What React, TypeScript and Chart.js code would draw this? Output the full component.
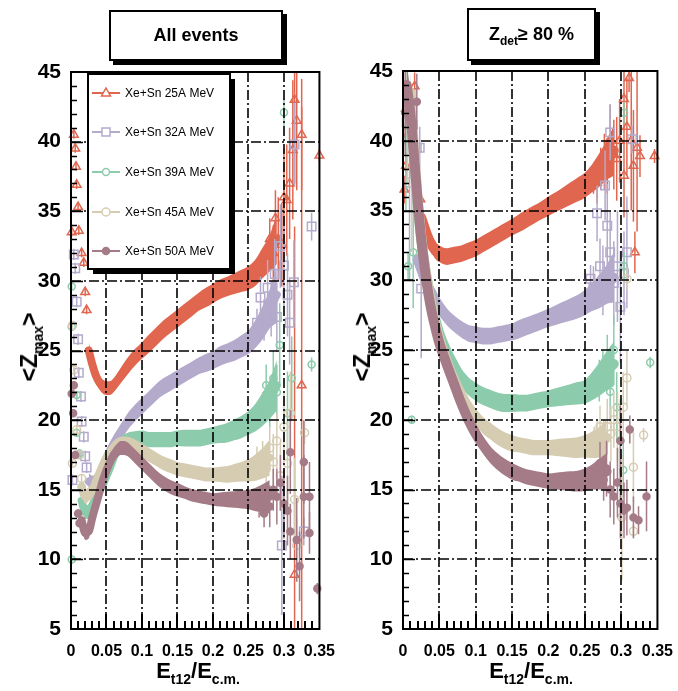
import React, { useEffect, useRef } from "react";
import { Chart, registerables } from "chart.js";

Chart.register(...registerables);

const FONT = '"Liberation Sans", Arial, Helvetica, sans-serif';
Chart.defaults.font.family = FONT;

// ---------- axes ----------
const X_TICKS = ["0", "0.05", "0.1", "0.15", "0.2", "0.25", "0.3", "0.35"];
const X_MAJOR = [0.05, 0.1, 0.15, 0.2, 0.25, 0.3];
const Y_MAJOR = [10, 15, 20, 25, 30, 35, 40];

// ---------- series meta ----------
const LABELS = ["Xe+Sn 25A MeV", "Xe+Sn 32A MeV", "Xe+Sn 39A MeV", "Xe+Sn 45A MeV", "Xe+Sn 50A MeV"];
const COLORS = ["#E0664F", "#B4AACB", "#8CCBAB", "#D6CCB2", "#A47B87"];
const STYLES = ["triangle", "rect", "circle", "circle", "circle"];
const FILLED = [false, false, false, false, true];
const RADII = [5, 6, 3.5, 4, 3.5];

// ================= LEFT PANEL (All events) =================
// dense bands
const L_R25_X = [0.025,0.03,0.035,0.04,0.045,0.05,0.055,0.06,0.07,0.08,0.09,0.1,0.11,0.12,0.13,0.14,0.15,0.16,0.17,0.18,0.19,0.2,0.21,0.22,0.23,0.24,0.25,0.26,0.27,0.28,0.29];
const L_R25_Y = [25.0,24.0,23.2,22.7,22.4,22.3,22.3,22.5,23.2,23.9,24.5,25.0,25.5,26.0,26.5,26.9,27.3,27.7,28.1,28.5,28.8,29.1,29.4,29.6,29.8,30.0,30.2,30.6,31.3,32.0,33.0];
const L_R25_E = [0.6,0.55,0.5,0.5,0.5,0.5,0.5,0.5,0.55,0.6,0.6,0.6,0.65,0.65,0.65,0.65,0.65,0.65,0.65,0.65,0.7,0.7,0.7,0.7,0.75,0.8,0.85,0.95,1.1,1.3,1.8];

const L_P32_X = [0.025,0.03,0.035,0.04,0.045,0.05,0.055,0.06,0.065,0.07,0.08,0.09,0.1,0.11,0.12,0.13,0.14,0.15,0.16,0.17,0.18,0.19,0.2,0.21,0.22,0.23,0.24,0.25,0.26,0.27,0.28,0.29];
const L_P32_Y = [15.6,15.4,15.6,16.1,16.7,17.3,17.8,18.3,18.7,19.1,19.9,20.5,21.0,21.5,22.0,22.4,22.7,23.0,23.3,23.6,23.9,24.1,24.3,24.6,24.8,25.0,25.3,25.6,26.2,27.0,28.0,29.0];
const L_P32_E = [0.6,0.6,0.6,0.6,0.6,0.6,0.6,0.6,0.6,0.6,0.6,0.6,0.6,0.6,0.6,0.6,0.6,0.6,0.6,0.6,0.6,0.65,0.65,0.7,0.7,0.75,0.8,0.85,1.0,1.2,1.4,2.0];

const L_G39_X = [0.015,0.02,0.025,0.03,0.035,0.04,0.045,0.05,0.055,0.06,0.065,0.07,0.08,0.09,0.1,0.11,0.12,0.13,0.14,0.15,0.16,0.17,0.18,0.19,0.2,0.21,0.22,0.23,0.24,0.25,0.26,0.27,0.28,0.29];
const L_G39_Y = [14.2,13.4,13.4,13.9,14.4,14.9,15.4,16.0,16.6,17.3,17.9,18.3,18.6,18.7,18.7,18.6,18.6,18.6,18.6,18.7,18.7,18.7,18.7,18.8,18.9,19.0,19.1,19.3,19.5,19.8,20.2,20.8,21.5,22.5];
const L_G39_E = [0.5,0.5,0.5,0.5,0.5,0.5,0.5,0.5,0.5,0.5,0.5,0.5,0.5,0.5,0.55,0.55,0.55,0.55,0.55,0.55,0.6,0.6,0.6,0.6,0.6,0.65,0.7,0.75,0.8,0.85,1.0,1.2,1.4,1.8];

const L_T45_X = [0.015,0.02,0.025,0.03,0.035,0.04,0.045,0.05,0.055,0.06,0.065,0.07,0.08,0.09,0.1,0.11,0.12,0.13,0.14,0.15,0.16,0.17,0.18,0.19,0.2,0.21,0.22,0.23,0.24,0.25,0.26,0.27,0.28];
const L_T45_Y = [15.2,14.5,14.7,14.9,15.6,16.2,16.8,17.3,17.7,18.0,18.2,18.3,18.3,18.1,17.8,17.5,17.2,16.9,16.7,16.5,16.4,16.3,16.2,16.1,16.1,16.1,16.1,16.2,16.3,16.4,16.6,16.9,17.3];
const L_T45_E = [0.5,0.5,0.5,0.5,0.5,0.5,0.5,0.5,0.5,0.5,0.5,0.5,0.5,0.5,0.5,0.5,0.5,0.5,0.5,0.5,0.5,0.5,0.5,0.5,0.5,0.55,0.6,0.65,0.7,0.8,0.95,1.1,1.3];

const L_M50_X = [0.015,0.02,0.025,0.03,0.035,0.04,0.045,0.05,0.055,0.06,0.065,0.07,0.075,0.08,0.09,0.1,0.11,0.12,0.13,0.14,0.15,0.16,0.17,0.18,0.19,0.2,0.21,0.22,0.23,0.24,0.25,0.26,0.27,0.28];
const L_M50_Y = [12.8,11.9,12.0,13.0,13.9,14.8,15.7,16.4,17.0,17.5,17.8,18.0,18.0,17.9,17.4,16.9,16.4,15.9,15.5,15.2,15.0,14.8,14.6,14.5,14.4,14.3,14.3,14.3,14.3,14.3,14.3,14.3,14.4,14.5];
const L_M50_E = [0.5,0.5,0.5,0.5,0.5,0.5,0.5,0.5,0.5,0.5,0.5,0.5,0.5,0.5,0.5,0.5,0.5,0.5,0.5,0.5,0.5,0.45,0.45,0.45,0.45,0.45,0.5,0.55,0.6,0.65,0.7,0.85,1.0,1.2];

// sparse points with error bars
const L_R25_SX = [0.001,0.004,0.006,0.007,0.008,0.01,0.011,0.015,0.018,0.02,0.022,0.275,0.28,0.285,0.288,0.292,0.297,0.3,0.304,0.308,0.3125,0.315,0.318,0.325,0.315,0.325,0.35];
const L_R25_SY = [33.5,40.5,39.5,38.2,36.9,35.3,33.6,32.0,31.3,29.2,27.9,31.5,33.0,32.0,34.5,33.0,32.6,36.0,35.8,37.0,39.4,43.0,41.5,22.5,8.9,40.5,39.0];
const L_R25_SE = [0.3,0.3,0.3,0.3,0.3,0.3,0.3,0.3,0.3,0.3,0.3,1.0,1.5,2.0,2.0,3.0,3.0,3.5,4.0,4.0,5.0,6.0,5.0,20.0,25.0,4.0,0.5];

const L_P32_SX = [0.002,0.004,0.006,0.008,0.01,0.011,0.014,0.015,0.018,0.02,0.022,0.262,0.267,0.272,0.277,0.282,0.287,0.29,0.295,0.297,0.3,0.305,0.308,0.314,0.315,0.328,0.339];
const L_P32_SY = [15.7,31.9,30.9,28.5,25.8,23.4,21.7,19.9,18.8,17.4,16.6,27.0,28.8,27.2,29.5,28.0,30.5,27.4,32.5,11.0,31.1,29.0,27.0,29.9,39.8,12.0,33.9];
const L_P32_SE = [0.4,0.4,0.4,0.4,0.4,0.4,0.4,0.4,0.4,0.4,0.4,1.0,1.5,1.5,2.0,2.0,2.5,2.5,3.0,5.0,3.0,3.0,3.0,3.0,3.0,1.0,1.0];

const L_G39_SX = [0.001,0.001,0.008,0.008,0.012,0.015,0.001,0.27,0.275,0.28,0.285,0.29,0.294,0.3,0.305,0.311,0.339];
const L_G39_SY = [29.6,26.7,21.8,19.1,17.6,15.2,10.0,21.0,22.5,21.0,23.0,22.0,25.4,42.1,20.5,23.0,24.0];
const L_G39_SE = [0.3,0.3,0.3,0.3,0.3,0.3,0.3,1.0,1.5,1.5,2.0,2.0,3.0,1.0,3.0,3.0,0.5];

const L_T45_SX = [0.002,0.004,0.002,0.008,0.012,0.015,0.262,0.27,0.275,0.28,0.285,0.29,0.295,0.3,0.305,0.309,0.315,0.318,0.329];
const L_T45_SY = [26.8,23.6,16.9,19.3,17.5,15.8,17.1,17.5,16.5,18.0,17.0,18.5,16.0,19.5,16.9,20.5,14.3,11.0,19.1];
const L_T45_SE = [0.3,0.3,0.3,0.3,0.3,0.3,1.0,1.0,1.5,1.5,2.0,2.0,2.5,2.5,3.0,3.0,3.0,2.0,0.8];

const L_M50_SX = [0.001,0.003,0.004,0.006,0.01,0.012,0.265,0.272,0.28,0.285,0.29,0.295,0.3,0.305,0.309,0.309,0.318,0.322,0.328,0.328,0.336,0.336,0.347];
const L_M50_SY = [21.9,20.5,22.5,17.5,13.3,12.6,14.0,13.3,13.8,15.0,14.5,15.5,14.0,13.5,17.7,12.0,11.4,9.5,17.0,14.5,14.5,11.9,7.9];
const L_M50_SE = [0.3,0.3,0.3,0.3,0.3,0.3,1.0,1.0,1.5,1.5,2.0,2.0,2.5,2.5,3.0,2.0,3.0,2.5,3.0,3.0,2.5,1.5,0.4];

// ================= RIGHT PANEL (Zdet >= 80 %) =================
const R_R25_X = [0.025,0.03,0.035,0.04,0.045,0.05,0.06,0.07,0.08,0.09,0.1,0.11,0.12,0.13,0.14,0.15,0.16,0.17,0.18,0.19,0.2,0.21,0.22,0.23,0.24,0.25,0.26,0.27,0.28,0.29];
const R_R25_Y = [34.5,33.7,33.0,32.5,32.1,31.9,31.7,31.8,31.9,32.1,32.3,32.6,32.9,33.2,33.5,33.8,34.1,34.4,34.7,35.0,35.3,35.6,35.9,36.2,36.5,36.8,37.3,37.9,38.6,39.3];
const R_R25_E = [0.9,0.8,0.7,0.6,0.6,0.6,0.6,0.6,0.6,0.6,0.6,0.6,0.6,0.6,0.6,0.6,0.65,0.65,0.65,0.65,0.7,0.7,0.75,0.8,0.85,0.9,1.0,1.2,1.4,1.8];

const R_P32_X = [0.02,0.025,0.03,0.035,0.04,0.045,0.05,0.06,0.07,0.08,0.09,0.1,0.11,0.12,0.13,0.14,0.15,0.16,0.17,0.18,0.19,0.2,0.21,0.22,0.23,0.24,0.25,0.26,0.27,0.28,0.29];
const R_P32_Y = [31.5,30.8,30.1,29.5,29.0,28.5,28.1,27.4,26.9,26.5,26.2,26.1,26.0,26.0,26.1,26.2,26.3,26.5,26.7,26.9,27.1,27.3,27.5,27.7,27.9,28.1,28.4,28.8,29.2,29.7,30.2];
const R_P32_E = [1.0,0.9,0.8,0.7,0.7,0.65,0.65,0.6,0.6,0.6,0.6,0.6,0.6,0.6,0.6,0.6,0.6,0.65,0.65,0.65,0.65,0.65,0.7,0.75,0.8,0.85,0.9,1.0,1.2,1.4,1.8];

const R_G39_X = [0.01,0.015,0.02,0.025,0.03,0.035,0.04,0.045,0.05,0.06,0.07,0.08,0.09,0.1,0.11,0.12,0.13,0.14,0.15,0.16,0.17,0.18,0.19,0.2,0.21,0.22,0.23,0.24,0.25,0.26,0.27,0.28,0.29];
const R_G39_Y = [43.0,39.0,35.5,33.0,31.0,29.5,28.2,27.1,26.2,24.9,23.9,23.0,22.4,22.0,21.7,21.5,21.3,21.2,21.2,21.2,21.2,21.3,21.4,21.5,21.6,21.7,21.8,21.9,22.0,22.4,22.9,23.5,24.0];
const R_G39_E = [1.5,1.3,1.1,1.0,0.9,0.8,0.8,0.7,0.7,0.65,0.65,0.65,0.65,0.65,0.65,0.65,0.65,0.65,0.65,0.6,0.6,0.6,0.6,0.6,0.65,0.7,0.75,0.8,0.85,1.0,1.2,1.4,1.6];

const R_T45_X = [0.01,0.015,0.02,0.025,0.03,0.035,0.04,0.045,0.05,0.06,0.07,0.08,0.09,0.1,0.11,0.12,0.13,0.14,0.15,0.16,0.17,0.18,0.19,0.2,0.21,0.22,0.23,0.24,0.25,0.26,0.27,0.28];
const R_T45_Y = [43.5,39.5,36.0,33.2,31.0,29.4,28.0,26.8,25.8,24.2,22.9,21.8,20.9,20.2,19.6,19.2,18.8,18.5,18.3,18.2,18.1,18.0,18.0,18.0,18.0,18.0,18.0,18.0,18.1,18.2,18.4,18.7];
const R_T45_E = [1.5,1.3,1.1,1.0,0.9,0.8,0.8,0.7,0.7,0.6,0.6,0.6,0.6,0.6,0.6,0.6,0.6,0.6,0.6,0.55,0.55,0.55,0.55,0.55,0.6,0.65,0.7,0.75,0.8,0.95,1.1,1.3];

const R_M50_X = [0.005,0.01,0.015,0.02,0.025,0.03,0.035,0.04,0.045,0.05,0.06,0.07,0.08,0.09,0.1,0.11,0.12,0.13,0.14,0.15,0.16,0.17,0.18,0.19,0.2,0.21,0.22,0.23,0.24,0.25,0.26,0.27,0.28];
const R_M50_Y = [44.0,42.0,39.0,35.8,33.0,30.8,29.0,27.6,26.5,25.5,24.0,22.6,21.2,20.0,19.0,18.2,17.5,17.0,16.6,16.3,16.1,15.9,15.8,15.7,15.6,15.6,15.6,15.6,15.6,15.7,15.9,16.1,16.3];
const R_M50_E = [1.6,1.5,1.3,1.1,1.0,0.9,0.8,0.8,0.7,0.7,0.6,0.6,0.6,0.6,0.6,0.6,0.6,0.6,0.6,0.6,0.55,0.55,0.55,0.55,0.55,0.6,0.65,0.7,0.75,0.8,0.9,1.1,1.3];

const R_R25_SX = [0.002,0.004,0.007,0.004,0.016,0.024,0.262,0.267,0.272,0.277,0.281,0.285,0.29,0.294,0.298,0.304,0.304,0.308,0.311,0.314,0.317,0.319,0.322,0.326,0.346];
const R_R25_SY = [36.5,42.3,40.5,38.2,43.9,35.8,37.2,37.0,38.0,38.5,38.2,40.1,39.0,38.7,40.0,43.0,37.5,41.0,44.5,40.0,38.2,32.0,39.5,38.9,38.9];
const R_R25_SE = [1.0,1.0,1.0,1.0,1.0,1.0,1.0,1.5,1.5,2.0,2.0,2.5,2.5,3.0,3.0,2.5,3.0,3.5,1.0,5.0,4.0,1.5,6.0,1.5,0.5];

const R_P32_SX = [0.005,0.009,0.019,0.023,0.025,0.258,0.262,0.267,0.271,0.275,0.278,0.281,0.285,0.285,0.29,0.295,0.299,0.304,0.308,0.315];
const R_P32_SY = [41.3,37.0,39.5,39.5,29.4,30.1,29.5,34.8,31.0,30.0,36.8,33.9,32.0,40.6,29.8,31.0,28.1,30.5,32.0,40.1];
const R_P32_SE = [2.0,7.0,2.0,1.5,5.0,1.0,1.5,2.0,2.0,2.5,2.5,3.0,3.0,2.0,3.0,4.0,4.0,3.0,4.0,1.0];

const R_G39_SX = [0.004,0.007,0.012,0.014,0.27,0.275,0.281,0.285,0.29,0.294,0.299,0.303,0.304,0.304,0.34];
const R_G39_SY = [40.0,31.0,20.0,32.0,22.8,23.5,24.1,22.0,25.0,20.9,18.5,16.4,42.0,31.0,24.1];
const R_G39_SE = [5.0,1.0,0.3,4.0,1.5,1.5,2.0,2.0,2.5,2.5,3.0,2.0,0.8,1.0,0.4];

const R_T45_SX = [0.006,0.012,0.263,0.267,0.271,0.276,0.281,0.286,0.29,0.295,0.301,0.303,0.308,0.308,0.317,0.317,0.331];
const R_T45_SY = [41.0,37.0,18.5,19.0,19.5,18.5,19.5,19.0,20.0,19.5,13.0,20.9,23.0,30.1,16.6,12.0,18.9];
const R_T45_SE = [4.0,5.0,1.0,1.0,1.5,1.5,2.0,2.0,2.0,2.5,4.5,2.5,2.0,0.8,2.5,0.5,0.5];

const R_M50_SX = [0.003,0.016,0.019,0.266,0.271,0.276,0.28,0.285,0.29,0.295,0.299,0.299,0.304,0.308,0.312,0.317,0.324,0.335];
const R_M50_SY = [42.0,38.6,42.8,16.0,16.9,15.7,16.5,15.0,14.5,15.5,14.0,18.5,13.5,13.7,19.3,13.0,12.8,14.5];
const R_M50_SE = [3.0,2.0,2.0,1.0,1.5,1.5,2.0,2.0,2.0,2.5,2.5,2.5,2.0,2.0,1.0,1.5,1.0,2.5];

type Series = { bx: number[]; by: number[]; be: number[]; sx: number[]; sy: number[]; se: number[] };

const LEFT: Series[] = [
  { bx: L_R25_X, by: L_R25_Y, be: L_R25_E, sx: L_R25_SX, sy: L_R25_SY, se: L_R25_SE },
  { bx: L_P32_X, by: L_P32_Y, be: L_P32_E, sx: L_P32_SX, sy: L_P32_SY, se: L_P32_SE },
  { bx: L_G39_X, by: L_G39_Y, be: L_G39_E, sx: L_G39_SX, sy: L_G39_SY, se: L_G39_SE },
  { bx: L_T45_X, by: L_T45_Y, be: L_T45_E, sx: L_T45_SX, sy: L_T45_SY, se: L_T45_SE },
  { bx: L_M50_X, by: L_M50_Y, be: L_M50_E, sx: L_M50_SX, sy: L_M50_SY, se: L_M50_SE },
];
const RIGHT: Series[] = [
  { bx: R_R25_X, by: R_R25_Y, be: R_R25_E, sx: R_R25_SX, sy: R_R25_SY, se: R_R25_SE },
  { bx: R_P32_X, by: R_P32_Y, be: R_P32_E, sx: R_P32_SX, sy: R_P32_SY, se: R_P32_SE },
  { bx: R_G39_X, by: R_G39_Y, be: R_G39_E, sx: R_G39_SX, sy: R_G39_SY, se: R_G39_SE },
  { bx: R_T45_X, by: R_T45_Y, be: R_T45_E, sx: R_T45_SX, sy: R_T45_SY, se: R_T45_SE },
  { bx: R_M50_X, by: R_M50_Y, be: R_M50_E, sx: R_M50_SX, sy: R_M50_SY, se: R_M50_SE },
];

function buildDatasets(series: Series[], lineW: number) {
  const ds: any[] = [];
  series.forEach((s, k) => {
    const col = COLORS[k];
    const order = 10 - 2 * k;
    const base = ds.length;
    ds.push({
      label: LABELS[k] + " lo",
      data: s.bx.map((x, i) => ({ x, y: s.by[i] - s.be[i] })),
      borderWidth: 0, pointRadius: 0, fill: false, order, cubicInterpolationMode: "monotone",
    });
    ds.push({
      label: LABELS[k] + " hi",
      data: s.bx.map((x, i) => ({ x, y: s.by[i] + s.be[i] })),
      borderWidth: 0, pointRadius: 0, fill: base, backgroundColor: col, order, cubicInterpolationMode: "monotone",
    });
    ds.push({
      label: LABELS[k],
      data: s.bx.map((x, i) => ({ x, y: s.by[i] })),
      borderColor: col, borderWidth: lineW, borderCapStyle: "round", borderJoinStyle: "round",
      pointRadius: 0, fill: false, order, cubicInterpolationMode: "monotone",
    });
    ds.push({
      label: LABELS[k] + " pts",
      data: s.sx.map((x, i) => ({ x, y: s.sy[i] })),
      errs: s.se,
      showLine: false,
      pointStyle: STYLES[k],
      pointRadius: RADII[k],
      pointBorderWidth: 1.5,
      pointBorderColor: col,
      pointBackgroundColor: FILLED[k] ? col : "rgba(0,0,0,0)",
      borderColor: col,
      order: order - 1,
      clip: 10,
    });
  });
  return ds;
}

const errorBarPlugin = {
  id: "errorBars",
  beforeDatasetDraw(chart: any, args: any) {
    const ds: any = chart.data.datasets[args.index];
    if (!ds.errs) return;
    const { ctx, chartArea: a } = chart;
    const ys = chart.scales.y;
    ctx.save();
    ctx.beginPath();
    ctx.rect(a.left, a.top, a.right - a.left, a.bottom - a.top);
    ctx.clip();
    ctx.strokeStyle = ds.borderColor;
    ctx.lineWidth = 1.5;
    args.meta.data.forEach((pt: any, i: number) => {
      const raw = ds.data[i];
      const e = ds.errs[i];
      const y1 = ys.getPixelForValue(raw.y - e);
      const y2 = ys.getPixelForValue(raw.y + e);
      ctx.beginPath();
      ctx.moveTo(pt.x, y1);
      ctx.lineTo(pt.x, y2);
      ctx.stroke();
    });
    ctx.restore();
  },
};

const framePlugin = {
  id: "frame",
  afterDatasetsDraw(chart: any) {
    const { ctx, chartArea: a } = chart;
    const xs = chart.scales.x;
    const ys = chart.scales.y;
    const seg = (x1: number, y1: number, x2: number, y2: number) => {
      ctx.beginPath();
      ctx.moveTo(x1, y1);
      ctx.lineTo(x2, y2);
      ctx.stroke();
    };
    ctx.save();
    ctx.strokeStyle = "#000";
    ctx.lineWidth = 1.6;
    ctx.setLineDash([10, 3, 2, 3]);
    X_MAJOR.forEach((v) => {
      const p = Math.round(xs.getPixelForValue(v));
      seg(p, a.top, p, a.bottom);
    });
    Y_MAJOR.forEach((v) => {
      const p = Math.round(ys.getPixelForValue(v));
      seg(a.left, p, a.right, p);
    });
    ctx.setLineDash([]);
    ctx.lineWidth = 2;
    X_MAJOR.forEach((v) => {
      const p = Math.round(xs.getPixelForValue(v));
      seg(p, a.bottom, p, a.bottom - 15);
    });
    for (let i = 1; i < 35; i++) {
      if (i % 5 === 0) continue;
      const p = Math.round(xs.getPixelForValue(i / 100));
      seg(p, a.bottom, p, a.bottom - 8);
    }
    ctx.lineWidth = 1.5;
    for (let v = 6; v < 45; v++) {
      const p = Math.round(ys.getPixelForValue(v)) + 0.5;
      seg(a.left, p, a.left + (v % 5 === 0 ? 12 : 6), p);
    }
    ctx.lineWidth = 2;
    ctx.strokeRect(a.left, a.top, a.right - a.left, a.bottom - a.top);
    ctx.restore();
  },
};

function drawMarker(ctx: CanvasRenderingContext2D, k: number, x: number, y: number) {
  const col = COLORS[k];
  ctx.save();
  ctx.strokeStyle = col;
  ctx.fillStyle = col;
  ctx.lineWidth = 1.5;
  ctx.beginPath();
  if (STYLES[k] === "triangle") {
    ctx.moveTo(x, y - 5);
    ctx.lineTo(x + 4.5, y + 3);
    ctx.lineTo(x - 4.5, y + 3);
    ctx.closePath();
  } else if (STYLES[k] === "rect") {
    ctx.rect(x - 4, y - 4, 8, 8);
  } else {
    ctx.arc(x, y, RADII[k], 0, Math.PI * 2);
  }
  if (FILLED[k]) ctx.fill();
  else {
    ctx.fillStyle = "#fff";
    ctx.fill();
  }
  ctx.stroke();
  ctx.restore();
}

const legendPlugin = {
  id: "boxLegend",
  afterDraw(chart: any) {
    const { ctx } = chart;
    const L = 88, T = 74, W = 142, H = 195;
    ctx.save();
    ctx.fillStyle = "#000";
    ctx.fillRect(L + 5, T + 5, W, H);
    ctx.fillStyle = "#fff";
    ctx.fillRect(L, T, W, H);
    ctx.strokeStyle = "#000";
    ctx.lineWidth = 2;
    ctx.strokeRect(L, T, W, H);
    const rows = [93, 132, 172, 212, 251];
    LABELS.forEach((lab, k) => {
      const y = rows[k];
      ctx.strokeStyle = COLORS[k];
      ctx.lineWidth = 2;
      ctx.beginPath();
      ctx.moveTo(L + 4, y);
      ctx.lineTo(L + 32, y);
      ctx.stroke();
      drawMarker(ctx, k, L + 18, y);
      ctx.fillStyle = "#000";
      ctx.font = `12px ${FONT}`;
      ctx.textBaseline = "middle";
      ctx.textAlign = "left";
      ctx.fillText(lab, L + 37, y + 1);
    });
    ctx.restore();
  },
};

function makeConfig(series: Series[], cfg: { yW: number; xH: number; top: number; padR: number; lineW: number; legend: boolean }): any {
  return {
    type: "line",
    data: { datasets: buildDatasets(series, cfg.lineW) },
    options: {
      responsive: false,
      animation: false,
      events: [],
      layout: { padding: { left: 0, right: cfg.padR, top: cfg.top, bottom: 0 } },
      plugins: { legend: { display: false }, tooltip: { enabled: false } },
      scales: {
        x: {
          type: "linear",
          min: 0,
          max: 0.35,
          afterFit: (s: any) => { s.height = cfg.xH; },
          grid: { display: false },
          border: { display: false },
          ticks: {
            stepSize: 0.05,
            autoSkip: false,
            maxRotation: 0,
            padding: 5,
            color: "#000",
            font: { family: FONT, size: 16, weight: "bold" },
            callback: (v: number) => X_TICKS[Math.round(v / 0.05)] ?? "",
          },
        },
        y: {
          type: "linear",
          min: 5,
          max: 45,
          afterFit: (s: any) => { s.width = cfg.yW; },
          grid: { display: false },
          border: { display: false },
          ticks: {
            stepSize: 5,
            padding: 2,
            color: "#000",
            font: { family: FONT, size: 21, weight: "bold" },
          },
        },
      },
    },
    plugins: cfg.legend ? [errorBarPlugin, framePlugin, legendPlugin] : [errorBarPlugin, framePlugin],
  };
}

const boxStyle: React.CSSProperties = {
  position: "absolute",
  border: "2px solid #000",
  boxShadow: "4px 4px 0 #000",
  background: "#fff",
  display: "flex",
  alignItems: "center",
  justifyContent: "center",
  fontWeight: "bold",
  fontSize: 18,
  fontFamily: FONT,
};

const yTitleStyle = (cx: number): React.CSSProperties => ({
  position: "absolute",
  left: cx,
  top: 347,
  transform: "translate(-50%, -50%) rotate(-90deg)",
  fontSize: 23,
  fontWeight: "bold",
  whiteSpace: "nowrap",
  lineHeight: "26px",
  fontFamily: FONT,
});

const xTitleStyle = (cx: number): React.CSSProperties => ({
  position: "absolute",
  left: cx,
  top: 658,
  transform: "translateX(-50%)",
  fontSize: 22,
  fontWeight: "bold",
  whiteSpace: "nowrap",
  lineHeight: "26px",
  fontFamily: FONT,
});

const subStyle: React.CSSProperties = { fontSize: 14, lineHeight: 0, verticalAlign: "-6px" };

export default function App() {
  const leftRef = useRef<HTMLCanvasElement>(null);
  const rightRef = useRef<HTMLCanvasElement>(null);

  useEffect(() => {
    const c1 = new Chart(leftRef.current as HTMLCanvasElement, makeConfig(LEFT, { yW: 71, xH: 62, top: 72, padR: 17, lineW: 8, legend: true }));
    const c2 = new Chart(rightRef.current as HTMLCanvasElement, makeConfig(RIGHT, { yW: 63, xH: 62, top: 71, padR: 17, lineW: 10, legend: false }));
    return () => {
      c1.destroy();
      c2.destroy();
    };
  }, []);

  return (
    <div style={{ position: "absolute", left: 0, top: 0, width: 678, height: 691, background: "#fff", overflow: "hidden", fontFamily: FONT }}>
      <canvas ref={leftRef} width={340} height={691} style={{ position: "absolute", left: 0, top: 0 }} />
      <canvas ref={rightRef} width={338} height={691} style={{ position: "absolute", left: 340, top: 0 }} />

      <div style={{ ...boxStyle, left: 109, top: 10, width: 170, height: 47 }}>All events</div>
      <div style={{ ...boxStyle, left: 467, top: 8, width: 125, height: 49 }}>
        <span>Z<sub style={{ fontSize: 12, lineHeight: 0 }}>det</sub>≥ 80 %</span>
      </div>

      <div style={yTitleStyle(29)}>&lt;Z<sub style={subStyle}>max</sub>&gt;</div>
      <div style={yTitleStyle(362)}>&lt;Z<sub style={subStyle}>max</sub>&gt;</div>

      <div style={xTitleStyle(198)}>E<sub style={subStyle}>t12</sub>/E<sub style={subStyle}>c.m.</sub></div>
      <div style={xTitleStyle(531)}>E<sub style={subStyle}>t12</sub>/E<sub style={subStyle}>c.m.</sub></div>
    </div>
  );
}
